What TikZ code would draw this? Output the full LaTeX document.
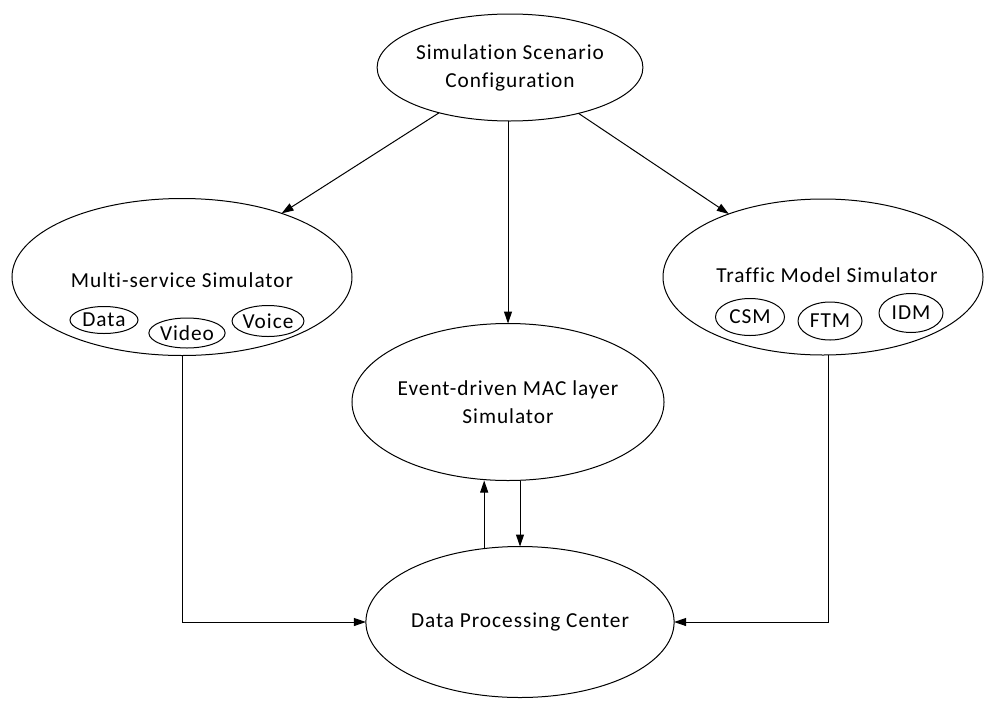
\documentclass[tikz,border=0pt]{standalone}
\usepackage{fontspec}
\setmainfont{Carlito}[LetterSpace=4.5,Ligatures={NoCommon}]
\usetikzlibrary{shapes.geometric,arrows.meta,calc}
\begin{document}
\begin{tikzpicture}[x=0.75pt,y=-0.75pt,
  oval/.style 2 args={draw,ellipse,line width=0.75pt,inner sep=0pt,outer sep=0pt,
    minimum width=#1*0.75pt,minimum height=#2*0.75pt,
    font=\fontsize{16}{21}\selectfont,align=center},
  lbl/.style={font=\fontsize{16}{21}\selectfont,align=center,inner sep=0pt},
  link/.style={line width=0.75pt,-{Triangle[length=9pt,width=6pt]}}]
\useasboundingbox (0,0) rectangle (984,700);

% main blocks
\node[oval={259}{107}] (top) at (510,67.5) {Simulation Scenario\\Configuration};
\node[oval={340}{157}] (lms) at (182,277) {};
\node[oval={320}{156}] (tms) at (823,277) {};
\node[oval={310}{157}] (mec) at (508,402) {Event-driven MAC layer\\Simulator};
\node[oval={268}{151}] (dpc) at (520,622) {Data Processing Center};

% titles of the two simulators
\node[lbl] (lmst) at (182,280) {Multi-service Simulator};
\node[lbl] (tmst) at (827,275) {Traffic Model Simulator};

% service types
\node[oval={68}{27}] (data)  at (104,320) {Data};
\node[oval={70}{30}] (video) at (187,333) {Video};
\node[oval={70}{31}] (voice) at (268,321) {Voice};

% traffic models
\node[oval={69}{37}] (csm) at (750,317) {CSM};
\node[oval={64}{38}] (ftm) at (830,321) {FTM};
\node[oval={64}{39}] (idm) at (911,313) {IDM};

% connectors
\draw[link] (top) -- (lms);
\draw[link] (top) -- (tms);
\draw[link] (top.south -| mec.north) -- (mec.north);
\draw[link] (lms.south) |- (dpc.west);
\draw[link] ($(tms.south)+(5,0)$) |- (dpc.east);
\draw[link] (dpc.116.6) -- (dpc.116.6 |- mec.south);
\draw[link] (mec.south -| dpc.north) -- (dpc.north);
\end{tikzpicture}
\end{document}
